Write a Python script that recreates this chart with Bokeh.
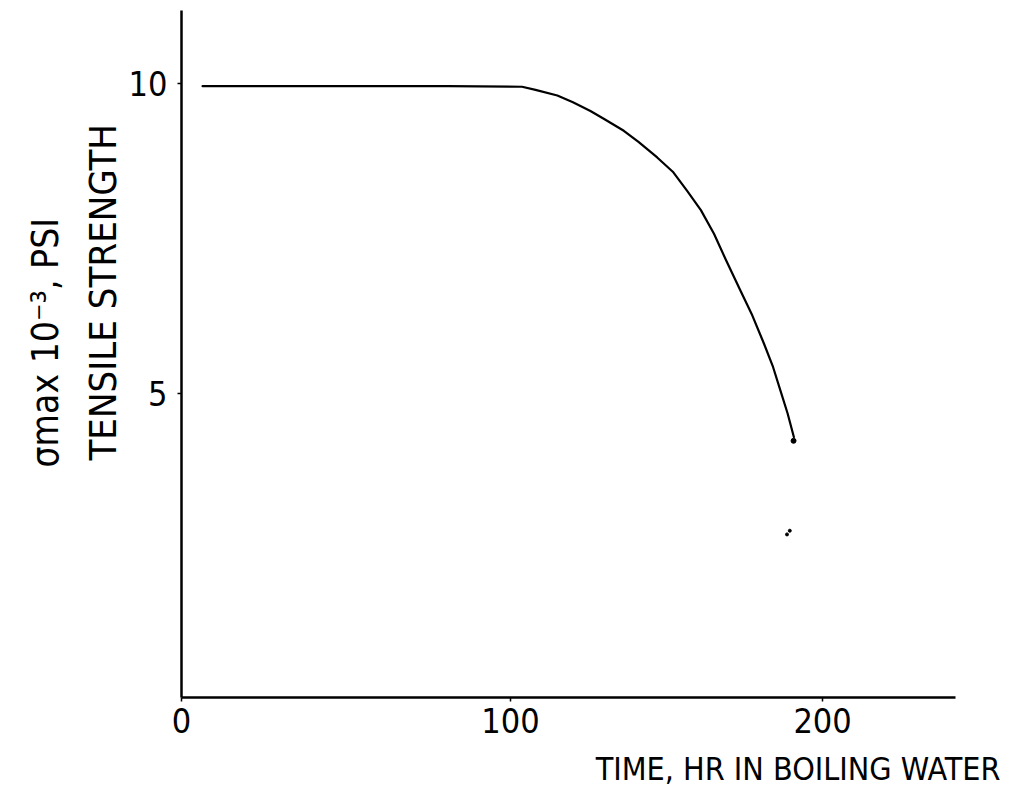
from bokeh.plotting import figure
from bokeh.models import Range1d, FixedTicker, Title
from bokeh.embed import file_html
from bokeh.resources import INLINE

# ---- data ----
time_hr = [1.3, 40.0, 80.0, 103.7, 108.0, 115.0, 120.0, 125.6, 130.0, 136.3, 141.0, 147.0,
           152.0, 156.6, 161.0, 165.2, 169.0, 173.7, 177.5, 181.2, 184.0, 186.5, 188.8, 190.8]
strength = [9.96, 9.96, 9.96, 9.95, 9.90, 9.81, 9.70, 9.56, 9.43, 9.24, 9.06, 8.81,
            8.58, 8.27, 7.96, 7.58, 7.16, 6.66, 6.26, 5.81, 5.45, 5.05, 4.68, 4.30]
end_x = [190.7]
end_y = [4.24]
stray_x = [189.5, 188.6]
stray_y = [2.79, 2.73]
x_ticks = [-5.45, 100, 200]
x_tick_labels = {-5.45: "0", 100: "100", 200: "200"}
y_ticks = [5, 10]
x_title = "TIME, HR IN BOILING WATER"
y_title_1 = "TENSILE STRENGTH"
y_title_2 = "\u03c3max 10\u207b\u00b3, PSI"

FONT = "DejaVu Sans Condensed"

p = figure(width=1002, height=809, output_backend="svg", toolbar_location=None,
           x_range=Range1d(-5.45, 242.6), y_range=Range1d(0.1, 11.18),
           min_border_left=181, min_border_right=47, min_border_top=10, min_border_bottom=112)
p.outline_line_color = None
p.xgrid.visible = False
p.ygrid.visible = False
p.background_fill_color = "white"
p.border_fill_color = "white"

for ax in (p.xaxis[0], p.yaxis[0]):
    ax.axis_line_width = 2.5
    ax.axis_line_color = "black"
    ax.major_tick_line_color = "black"
    ax.major_tick_line_width = 1.5
    ax.major_tick_in = 0
    ax.major_tick_out = 4
    ax.minor_tick_line_color = None
    ax.major_label_text_font = FONT
    ax.major_label_text_font_size = "34px"
    ax.major_label_text_color = "black"

p.xaxis[0].ticker = FixedTicker(ticks=x_ticks)
p.xaxis[0].major_label_overrides = x_tick_labels
p.yaxis[0].ticker = FixedTicker(ticks=y_ticks)
p.xaxis[0].major_label_standoff = 6
p.yaxis[0].major_label_standoff = 10

p.line(time_hr, strength, line_color="black", line_width=2.2, line_join="round", line_cap="round")
p.scatter(end_x, end_y, size=5, color="black")
p.scatter(stray_x, stray_y, size=3, color="black")

p.add_layout(Title(text=x_title, text_font=FONT, text_font_size="32px", text_font_style="normal",
                   align="right", offset=-45, standoff=24, text_color="black"), "below")
p.add_layout(Title(text=y_title_1, text_font=FONT, text_font_size="38px", text_font_style="normal",
                   align="left", offset=237, standoff=2, text_color="black"), "left")
p.add_layout(Title(text=y_title_2, text_font=FONT, text_font_size="37px", text_font_style="normal",
                   align="left", offset=230, standoff=22, text_color="black"), "left")

open("out.html", "w").write(file_html(p, INLINE))
